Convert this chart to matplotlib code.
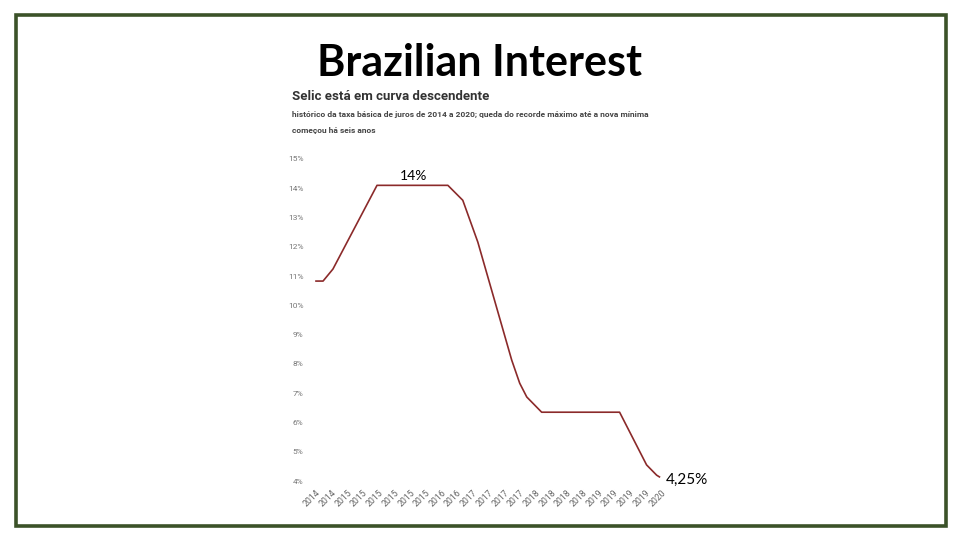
import matplotlib
matplotlib.use('Agg')
import matplotlib.pyplot as plt
from matplotlib.patches import Rectangle

# Selic path (x in tick-label index units)
pos = [0.0, 0.45, 1.08, 3.89, 8.41, 9.36, 10.32, 12.48, 12.99, 13.44, 14.39, 19.36, 21.08, 21.72, 21.9]
selic = [10.83, 10.83, 11.24, 14.10, 14.10, 13.59, 12.16, 8.13, 7.34, 6.87, 6.35, 6.35, 4.55, 4.20, 4.14]

year_labels = ['2014', '2014', '2015', '2015', '2015', '2015', '2015', '2015',
               '2016', '2016', '2017', '2017', '2017', '2017', '2018', '2018',
               '2018', '2018', '2019', '2019', '2019', '2019', '2020']
y_ticks = list(range(4, 16))

W, H = 960, 540
fig = plt.figure(figsize=(9.6, 5.4), dpi=100)

# slide frame
fig.patches.append(Rectangle((15.5 / W, 1 - 525.5 / H), 930 / W, 511 / H,
                             transform=fig.transFigure, fill=False,
                             edgecolor='#3b5229', lw=2.6))

fig.text(479.5 / W, 1 - 63 / H, 'Brazilian Interest', family='Lato', fontweight='bold',
         fontsize=31, ha='center', va='center', color='black')

# embedded chart header
fig.text(292 / W, 1 - 96 / H, 'Selic está em curva descendente', family='Roboto',
         fontweight='bold', fontsize=9.5, color='#333333', ha='left', va='center')
fig.text(292 / W, 1 - 114 / H,
         'histórico da taxa básica de juros de 2014 a 2020; queda do recorde máximo até a nova mínima',
         family='Roboto', fontweight='bold', fontsize=6.0, color='#444444', ha='left', va='center')
fig.text(292 / W, 1 - 131 / H, 'começou há seis anos', family='Roboto', fontweight='bold',
         fontsize=6.0, color='#444444', ha='left', va='center')

ax = fig.add_axes([316 / W, 1 - 481 / H, 345 / W, 322 / H])
ax.plot(pos, selic, color='#8b2a2a', lw=1.2, clip_on=False)
ax.set_xlim(0, 22)
ax.set_ylim(4, 15)

ax.set_yticks(y_ticks)
ax.set_yticklabels([f'{v}%' for v in y_ticks])
ax.set_xticks(range(len(year_labels)))
ax.set_xticklabels(year_labels, rotation=45, ha='right', va='top', rotation_mode='anchor')
ax.tick_params(axis='y', length=0, pad=9, labelsize=6, labelcolor='#777777')
ax.tick_params(axis='x', length=0, pad=5, labelsize=6.3, labelcolor='#666666')
for lab in ax.get_xticklabels() + ax.get_yticklabels():
    lab.set_family('Roboto')
for s in ax.spines.values():
    s.set_visible(False)
ax.patch.set_alpha(0)

ax.text(6.2, 14.1 + 0.32, '14%', family='Lato', fontsize=10, ha='center', va='center')
ax.text(22.3, 4.05, '4,25%', family='Lato', fontsize=11, ha='left', va='center')

fig.savefig('out.png', dpi=100)
